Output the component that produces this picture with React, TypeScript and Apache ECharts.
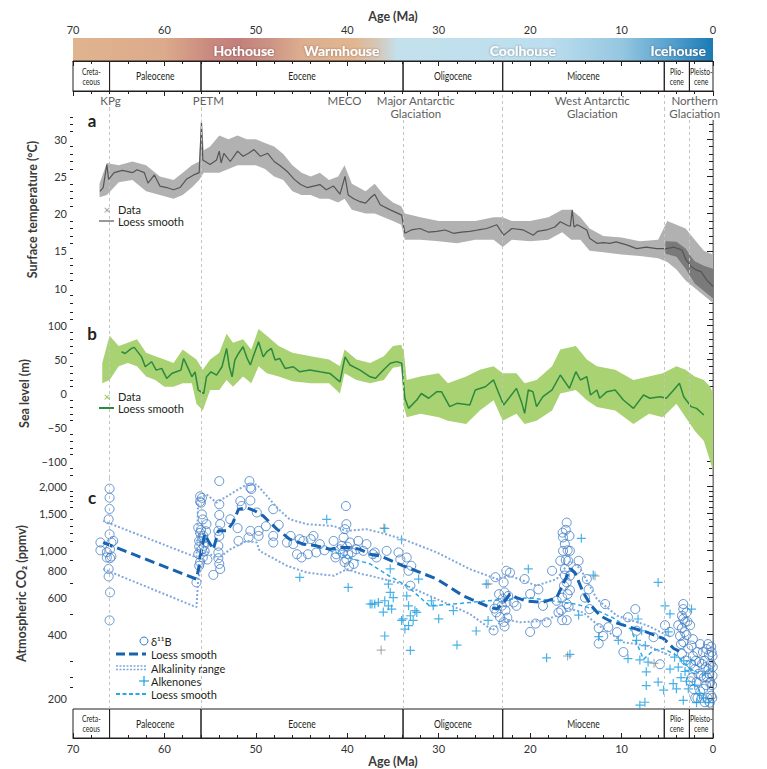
import React, { useEffect, useRef } from "react";
import * as echarts from "echarts";

// ---------- time scale ----------
const epochNames = ["Creta-\nceous", "Paleocene", "Eocene", "Oligocene", "Miocene", "Plio-\ncene", "Pleisto-\ncene"];
const epochOld = [70, 66, 56, 33.9, 23, 5.33, 2.58];
const epochYoung = [66, 56, 33.9, 23, 5.33, 2.58, 0];
const boundaryAges = [66, 56, 33.9, 23, 5.33, 2.58];

const regimeNames = ["Hothouse", "Warmhouse", "Coolhouse", "Icehouse"];
const regimeAges = [51.3, 40.6, 20.8, 3.8];

const eventNames = ["KPg", "PETM", "MECO", "Major Antarctic\nGlaciation", "West Antarctic\nGlaciation", "Northern\nGlaciation"];
const eventAges = [65.9, 55.2, 40.3, 32.5, 13.2, 2.0];

// ---------- tick values ----------
const tempMajor = [10, 15, 20, 25, 30];
const tempMinor = [8, 9, 11, 12, 13, 14, 16, 17, 18, 19, 21, 22, 23, 24, 26, 27, 28, 29, 31, 32, 33];
const seaMajor = [-100, -50, 0, 50, 100];
const seaMinor = [-120, -110, -90, -80, -70, -60, -40, -30, -20, -10, 10, 20, 30, 40, 60, 70, 80, 90, 110, 120];
const co2Major = [200, 400, 600, 800, 1000, 1500, 2000];
const co2Minor = [225, 250, 300, 500, 700, 900, 1100, 1200, 1300, 1400, 1600, 1700, 1800, 1900];

// ---------- (a) surface temperature, °C ----------
const tempAge = [67.05, 66.7, 66.3, 66.1, 65.5, 64.6, 63.5, 63.0, 62.2, 61.8, 61.1, 60.5, 59.75, 59.0, 58.3, 57.6, 56.8, 56.2, 55.95, 55.8,
  55.0, 54.3, 54.0, 53.8, 53.5, 52.8, 52.0, 51.4, 50.8, 50.2, 49.5, 48.7, 48.0, 47.3, 46.6, 45.8, 45.1, 44.4, 43.7, 43.0,
  42.3, 41.5, 40.8, 40.25, 39.9, 39.3, 38.6, 38.0, 37.4, 37.0, 36.4, 35.3, 34.05, 33.7, 33.0, 32.05, 31.1, 30.2, 29.3, 28.4,
  27.5, 26.6, 25.7, 24.75, 23.65, 22.9, 22.0, 20.75, 19.65, 19.2, 18.2, 17.3, 16.7, 15.9, 15.6, 15.4, 15.2, 14.85, 13.8, 13.5,
  12.7, 12.0, 11.3, 10.6, 9.44, 8.35, 7.3, 6.16, 5.07, 4.3, 3.4, 2.96, 2.4, 1.8, 1.3, 0.7, 0.0];
const tempLoess = [23.0, 23.5, 26.6, 24.6, 25.5, 25.8, 25.5, 25.9, 25.5, 24.1, 25.2, 23.7, 23.5, 23.2, 23.5, 24.6, 25.2, 25.5, 32.3, 27.2,
  26.6, 27.2, 28.4, 26.8, 28.1, 27.0, 28.4, 27.7, 28.1, 28.6, 27.7, 28.1, 27.0, 26.4, 25.7, 24.6, 23.9, 23.5, 23.7, 23.9,
  23.2, 23.7, 22.6, 25.0, 22.5, 22.0, 21.6, 21.4, 22.2, 22.6, 21.2, 20.5, 19.8, 17.35, 17.8, 18.0, 17.5, 17.6, 17.8, 17.35,
  17.5, 17.6, 17.8, 18.0, 18.5, 17.1, 18.0, 17.8, 17.1, 17.6, 17.8, 18.2, 18.9, 18.4, 18.3, 20.5, 18.2, 18.5, 17.8, 16.7,
  16.0, 16.1, 16.0, 16.2, 15.8, 15.3, 15.5, 15.3, 15.3, 15.5, 15.1, 13.8, 12.9, 12.4, 12.2, 11.1, 10.2];

const tempCloudAge = [67.1, 66.3, 65, 63.5, 62, 60.5, 59, 58, 57, 56.2, 55.95, 55.7, 55, 54, 53, 52, 51, 50, 49, 48,
  47, 46, 45, 44, 43, 42, 41, 40.3, 39.5, 38, 37, 36, 35, 34.1, 33.7, 32, 30, 28, 26, 24,
  23, 22, 20, 18, 16.5, 15.5, 14.5, 13.5, 12, 10, 8, 6, 5, 4, 3, 2, 1, 0];
const tempCloudHigh = [24.0, 26.8, 26.5, 27.0, 26.5, 25.0, 24.5, 25.5, 26.5, 27.0, 33.0, 28.5, 29.0, 30.5, 30.0, 30.5, 30.0, 30.0, 29.5, 29.0,
  28.0, 26.5, 25.5, 25.0, 25.5, 24.5, 25.0, 26.5, 24.0, 23.0, 24.0, 22.5, 21.5, 21.0, 20.0, 19.5, 19.0, 19.0, 19.0, 19.5,
  19.5, 19.0, 19.0, 19.5, 20.5, 20.5, 19.5, 18.0, 17.0, 16.8, 16.3, 16.5, 19.0, 18.5, 18.0, 16.5, 15.0, 14.5];
const tempCloudLow = [22.2, 22.5, 24.2, 24.5, 23.0, 22.5, 22.0, 22.5, 23.5, 24.5, 25.0, 25.5, 25.5, 25.5, 26.0, 26.5, 26.5, 26.5, 26.0, 25.0,
  24.5, 23.0, 22.5, 22.5, 22.0, 22.0, 21.5, 22.0, 20.5, 20.0, 20.0, 19.5, 19.0, 18.5, 16.5, 16.5, 16.3, 16.0, 16.5, 16.5,
  15.5, 16.5, 16.3, 16.5, 17.5, 16.5, 16.5, 15.0, 14.8, 14.5, 14.3, 14.0, 13.5, 12.5, 11.0, 10.0, 9.0, 8.0];
// densely sampled glacial–interglacial range (Plio-Pleistocene)
const tempCoreAge = [5.2, 4.0, 3.0, 2.5, 2.0, 1.0, 0.0];
const tempCoreHigh = [16.3, 16.2, 15.3, 14.4, 13.6, 13.0, 12.6];
const tempCoreLow = [14.6, 14.2, 12.6, 11.6, 10.6, 9.6, 8.6];

// ---------- (b) sea level, m ----------
const seaAge = [64.7, 64.3, 63.6, 63.3, 62.5, 62.1, 61.4, 60.9, 60.3, 59.75, 59.2, 58.7, 58.2, 57.9, 57.4, 57.0, 56.65, 56.3, 55.7, 55.4,
  54.9, 54.3, 53.7, 53.2, 52.9, 52.6, 52.3, 51.9, 51.4, 50.95, 50.6, 50.3, 49.7, 49.2, 48.8, 48.3, 47.9, 47.4, 46.8, 45.9,
  45.2, 44.1, 43.0, 41.9, 40.8, 40.25, 39.7, 38.6, 37.5, 36.9, 36.05, 35.3, 34.6, 34.05, 33.7, 33.3, 32.4, 31.9, 31.1, 30.2,
  29.7, 28.8, 28.0, 26.6, 26.0, 24.9, 24.0, 23.5, 22.9, 22.2, 21.5, 20.9, 20.6, 20.2, 19.7, 19.3, 18.6, 17.6, 16.7, 15.7,
  15.0, 14.5, 13.8, 13.4, 12.7, 12.4, 11.6, 10.7, 9.8, 8.7, 7.6, 6.9, 5.8, 5.1, 4.3, 3.67, 3.2, 2.4, 1.8, 1.0];
const seaLoess = [61.6, 59, 66.5, 68, 54, 39.4, 46.8, 34.5, 37, 22.2, 29.6, 32, 34.5, 51.7, 37, 24.6, 32, 4.9, 0, 24.6,
  32, 27, 39.4, 66.5, 39.4, 24.6, 49.3, 59, 69, 51.7, 42, 54, 76.4, 54, 61.6, 66.5, 49.3, 51.7, 37, 39.4,
  32, 34.5, 32, 29.6, 17.2, 54, 42, 34.5, 24.6, 22.4, 34.7, 44.5, 47, 44.5, -7, -21.9, -9.6, 0, -7, 2.7,
  2.7, -19.4, -14.5, -17, 5.2, 10, 20, 2.7, -17, -4.7, 7.6, -14.5, -29.3, 5.2, 2.7, -19.4, -4.7, 5.2, 27.3, 7.6,
  32.2, 19.9, 24.8, -2.2, 5.2, -7, 2.7, 5.2, -9.6, -21.9, -2.2, -7, -4.7, -7, 5.2, 15, -4.7, -19.4, -21.9, -31.7];

const seaCloudAge = [66.8, 66, 65, 64, 63, 62, 61, 60, 59, 58, 57, 56.5, 55.8, 55, 54, 53.2, 52.5, 51.4, 50.5, 49.7,
  48.8, 47.5, 46, 44, 42, 40.8, 40.3, 39, 37.5, 36, 35, 34.1, 33.8, 33.5, 32, 30, 29, 27, 25.5, 24,
  23, 21.5, 20.6, 19.3, 17.6, 16.7, 15, 13.8, 12.7, 10.7, 8.7, 7, 5.5, 4, 3, 2, 1, 0.3, 0];
const seaCloudHigh = [45, 85, 70, 75, 80, 60, 55, 50, 45, 65, 55, 50, 35, 50, 60, 88, 75, 80, 65, 95,
  85, 70, 60, 55, 50, 40, 65, 50, 45, 55, 70, 72, 60, 20, 25, 30, 15, 25, 35, 40,
  30, 30, 15, 20, 40, 65, 70, 50, 40, 35, 20, 25, 30, 40, 35, 25, 20, 10, 0];
const seaCloudLow = [15, 20, 40, 45, 40, 25, 20, 10, 10, 15, 15, -15, -25, 5, 5, 20, 10, 25, 15, 40,
  30, 25, 18, 15, 15, 0, 30, 20, 15, 20, 38, 40, -20, -35, -30, -35, -40, -45, -25, -10,
  -40, -30, -45, -40, -25, 0, 5, -10, -20, -25, -45, -30, -35, -15, -35, -55, -70, -100, -115];

// ---------- (c) atmospheric CO2, ppmv ----------
const boronPoints: [number, number][] = [
  [67.0, 1089], [67.0, 1000], [66.3, 980], [66.1, 1402], [66.0, 1190], [66.0, 1957], [66.0, 1774], [66.0, 1570], [65.95, 1011],
  [65.95, 918], [66.1, 816], [66.1, 752], [65.95, 632], [66.0, 466], [65.8, 1089], [65.6, 1108], [66.3, 925], [65.8, 935],
  [56.1, 1800], [56.1, 1700], [55.9, 1770], [56.0, 1680], [55.9, 1480], [55.8, 1400], [56.3, 1280], [56.1, 1210], [55.75, 1170],
  [56.2, 1110], [55.7, 1050], [55.9, 1011], [56.3, 960], [55.8, 925], [56.1, 878], [56.2, 845], [55.75, 1140], [55.45, 1230],
  [55.4, 1330], [55.6, 1089], [56.5, 705], [55.3, 905], [56.0, 1250], [55.9, 1150], [56.2, 1040], [55.6, 990],
  [54.0, 2127], [54.0, 1650], [54.0, 1470], [53.9, 1330], [54.1, 1236], [54.0, 1170], [54.1, 1050], [54.1, 977], [54.1, 918],
  [54.0, 862], [54.65, 765], [53.9, 816],
  [52.8, 1402], [51.9, 1108], [52.0, 1274], [51.7, 1710], [51.55, 1620], [50.7, 2127], [50.6, 1980], [50.6, 1720], [50.8, 1150],
  [50.6, 1236], [49.7, 1236], [49.7, 1170], [48.9, 1300], [48.1, 1565], [47.5, 1320], [49.9, 1510], [50.5, 1950],
  [48.1, 1170], [48.1, 1089], [46.6, 1089], [45.9, 1070], [45.5, 958], [45.2, 1129], [45.0, 925], [44.8, 1108], [44.3, 958],
  [43.7, 1170], [43.4, 977], [43.0, 1070], [41.5, 1108], [41.3, 925], [41.2, 958], [40.8, 1011], [40.6, 1050], [40.4, 1150],
  [40.25, 1259], [40.15, 1620], [40.1, 1330], [40.1, 905], [39.9, 958], [39.7, 1089], [39.5, 977], [39.3, 862], [39.0, 1011],
  [38.8, 1108], [38.25, 994], [37.9, 1070], [37.0, 977], [36.8, 925], [40.5, 970], [40.0, 1040], [40.3, 880], [39.8, 840],
  [44.0, 1130], [42.5, 1000], [46.2, 1170],
  [37.2, 958], [35.7, 994], [34.4, 977], [34.2, 905], [33.5, 925], [33.3, 800], [33.1, 680], [33.0, 845],
  [23.8, 746], [22.9, 705], [22.6, 800], [22.2, 784], [23.7, 508], [23.3, 483], [22.9, 458], [22.8, 436], [24.0, 418],
  [23.1, 546], [22.6, 567], [21.8, 567], [21.5, 546], [22.4, 608], [22.8, 632], [20.6, 731], [20.0, 621], [20.0, 411],
  [19.4, 450], [19.1, 653], [18.6, 546], [18.2, 456], [17.6, 800], [23.5, 560], [23.0, 590], [23.4, 620], [22.7, 520],
  [23.9, 530], [22.5, 480],
  [16.0, 1353], [16.45, 1212], [16.4, 1150], [16.2, 1070], [15.7, 1170], [15.65, 994], [16.4, 994], [16.7, 892], [15.85, 892],
  [16.2, 816], [15.65, 758], [16.0, 705], [15.65, 647], [16.5, 597], [16.0, 557], [16.9, 508], [16.5, 467], [16.0, 467],
  [17.1, 577], [14.7, 892], [14.9, 816], [13.8, 731], [13.6, 653], [14.0, 597], [13.5, 527], [12.5, 428], [12.5, 362],
  [12.0, 393], [11.8, 557], [11.45, 433], [10.5, 410], [9.8, 330], [9.3, 482], [8.5, 527], [8.36, 416], [6.5, 388], [5.8, 289],
  [5.25, 442], [4.7, 411], [16.2, 760], [15.9, 620], [16.3, 680], [15.8, 540], [16.6, 520], [16.1, 900], [15.9, 1000], [16.1, 1250],
  [3.25, 557], [3.25, 527], [3.4, 490], [3.05, 458], [3.4, 428], [2.9, 397], [3.25, 368], [2.7, 343], [3.4, 324], [3.0, 301],
  [2.5, 442], [3.6, 393], [2.9, 508], [3.25, 474], [3.8, 442], [3.1, 410], [2.8, 460], [3.5, 360],
  [2.35, 354], [2.2, 316], [2.0, 274], [1.8, 238], [1.5, 296], [1.3, 255], [1.06, 221], [0.9, 191], [0.7, 341], [0.5, 274],
  [0.3, 238], [0.2, 205], [0.05, 316], [0.05, 255], [2.4, 290], [2.3, 250], [2.1, 220], [1.9, 300], [1.7, 330], [1.6, 260],
  [1.4, 215], [1.2, 290], [1.1, 330], [1.0, 250], [0.8, 280], [0.75, 230], [0.6, 200], [0.45, 320], [0.4, 260], [0.35, 190],
  [0.25, 290], [0.15, 330], [0.1, 230], [0.08, 200], [0.02, 280], [2.2, 380], [1.95, 200], [1.4, 360], [0.55, 360], [0.2, 350],
  [0.9, 300], [1.7, 200], [2.45, 240], [1.25, 200], [0.65, 250],
];
const alkenonePoints: [number, number][] = [
  [42.25, 1402], [45.2, 745], [39.9, 667], [37.3, 557], [37.0, 557], [36.6, 567], [35.9, 1268], [34.06, 1122], [37.5, 557],
  [36.06, 510], [35.9, 577], [35.5, 546], [35.15, 527], [35.3, 816], [34.97, 597], [35.5, 692], [35.3, 632], [33.5, 608],
  [33.3, 546], [33.1, 490], [33.3, 440], [34.06, 466], [33.9, 474], [33.7, 424], [32.8, 466], [32.6, 518], [32.4, 508],
  [32.2, 731], [35.9, 393], [33.1, 336], [30.8, 577], [30.6, 546], [30.0, 474], [28.4, 518], [25.9, 415], [28.0, 356],
  [24.8, 692], [24.6, 466], [20.2, 816], [18.2, 310], [15.65, 322], [14.7, 494], [14.4, 1140], [13.1, 764], [12.5, 390],
  [10.35, 375], [9.3, 307], [8.36, 375], [8.2, 473], [7.8, 416], [7.4, 354], [7.3, 266], [7.3, 229], [8.0, 303], [7.1, 296],
  [6.0, 705], [6.0, 238], [5.4, 218], [5.25, 546], [4.9, 411], [4.7, 500], [4.7, 274], [4.35, 234], [4.2, 312], [4.0, 221],
  [3.25, 195], [3.06, 267], [2.7, 221], [2.35, 527], [1.8, 190], [1.06, 200], [8.0, 185], [7.45, 191],
  [3.5, 250], [2.9, 240], [2.5, 300], [2.0, 230], [1.5, 210], [0.5, 190], [3.8, 280], [3.2, 300], [2.6, 270],
];
const otherProxyPoints: [number, number][] = [[36.0, 1275], [36.3, 337], [24.6, 693], [12.9, 756], [15.9, 316], [6.45, 292]];

const boronLoessAge = [66.7, 56.5, 56.2, 56.0, 55.6, 55.2, 54.65, 54.1, 53.2, 52.5, 51.9, 51.0, 50.1, 49.2, 47.7, 46.3, 44.8, 43.35,
  41.9, 40.8, 39.7, 38.6, 37.5, 36.4, 33.9, 30.2, 27.3, 24.75, 23.65, 22.9, 22.2, 21.5, 20.4, 18.6, 17.1, 16.4, 15.6, 15.1,
  14.2, 13.3, 12.35, 11.3, 9.1, 7.25, 5.4, 4.3, 3.5];
const boronLoess = [1089, 731, 845, 977, 1192, 1108, 1011, 1236, 1236, 1353, 1565, 1592, 1536, 1455, 1259, 1129, 1070, 1050,
  1011, 1031, 1031, 1011, 958, 940, 845, 731, 608, 546, 527, 567, 621, 597, 575, 567, 597, 692, 818, 784,
  632, 546, 490, 464, 433, 410, 382, 343, 330];

const alkHighAge = [66.7, 56.5, 56.3, 55.4, 54.3, 52.5, 51.0, 49.9, 48.8, 47.7, 46.3, 44.4, 41.5, 40.1, 37.9, 36.4, 33.9, 30.2,
  26.6, 23.65, 22.2, 19.3, 17.1, 15.6, 14.5, 12.7, 10.5, 7.25, 4.7];
const alkHigh = [1378, 926, 1742, 1840, 1680, 1875, 2050, 2050, 1810, 1592, 1402, 1329, 1304, 1236, 1259, 1213, 1129, 977,
  815, 731, 758, 680, 731, 892, 818, 588, 490, 442, 390];
const alkLowAge = [66.7, 56.5, 56.3, 55.5, 54.2, 52.8, 51.0, 49.9, 49.6, 46.6, 44.4, 41.5, 40.0, 38.5, 37.5, 33.9, 30.2, 26.6,
  24.1, 22.9, 21.1, 18.6, 17.1, 15.6, 14.2, 12.7, 9.8, 7.25, 4.7];
const alkLow = [816, 538, 731, 994, 909, 1011, 1108, 1089, 994, 845, 784, 758, 815, 773, 758, 692, 588, 500,
  418, 474, 456, 464, 490, 527, 508, 447, 367, 354, 318];

const alkenoneLoessAge = [42, 39, 37.5, 35.5, 33.5, 31, 28.5, 25, 22.5, 20, 17.5, 15, 13, 11, 9, 7.6, 6.5, 5.4, 4, 2.5, 1, 0];
const alkenoneLoess = [1000, 900, 862, 760, 680, 546, 556, 575, 585, 597, 575, 556, 527, 481, 424, 305, 336, 343, 318, 275, 256, 280];

// ---------- styling ----------
const FONT = "Lato, 'Open Sans', 'Noto Sans', sans-serif";
const TXT = "#231f20";
const GRID_L = 73;
const GRID_R = 767 - 713;

const regimeStops: [number, string][] = [
  [70, "#e0b48f"], [60, "#dcaa8c"], [55, "#c9897f"], [52, "#c27f7c"], [48.5, "#cc9385"], [45, "#dcae8f"],
  [39, "#e0b792"], [36.5, "#d4c9bd"], [34.5, "#c3e1ec"], [18, "#bcdeee"], [10, "#95c7e1"], [4, "#4e9ccb"], [0, "#1a7ab4"],
];

const lg10 = (v: number) => Math.log10(v);

function pairs(xs: number[], ys: number[], f: (v: number) => number = (v) => v) {
  return xs.map((x, i) => [x, f(ys[i])]);
}

function cloudSeries(xi: number, yi: number, ages: number[], lo: number[], hi: number[], fill: string) {
  return {
    type: "custom",
    xAxisIndex: xi,
    yAxisIndex: yi,
    silent: true,
    z: 1,
    data: [[ages[0], lo[0]]],
    renderItem: (_p: any, api: any) => {
      const top = ages.map((a, i) => api.coord([a, hi[i]]));
      const bottom = ages.map((a, i) => api.coord([a, lo[i]])).reverse();
      return { type: "polygon", shape: { points: top.concat(bottom) }, style: { fill } };
    },
  };
}

function boundarySeries(xi: number, yi: number) {
  return {
    type: "line",
    xAxisIndex: xi,
    yAxisIndex: yi,
    data: [],
    silent: true,
    z: 0,
    markLine: {
      silent: true,
      symbol: "none",
      label: { show: false },
      animation: false,
      lineStyle: { color: "#c4c4c4", type: [3, 3], width: 1 },
      data: boundaryAges.map((a) => ({ xAxis: a })),
    },
  };
}

// Epoch boxes; labels are horizontally compressed to mimic a condensed face
function epochSeries(xi: number, yi: number) {
  return {
    type: "custom",
    xAxisIndex: xi,
    yAxisIndex: yi,
    silent: true,
    data: [[70, 0]],
    renderItem: (_p: any, api: any) => ({
      type: "group",
      children: epochNames.map((name, i) => {
        const a = api.coord([epochOld[i], 1]);
        const b = api.coord([epochYoung[i], 0]);
        const twoLines = name.indexOf("\n") >= 0;
        return {
          type: "group",
          children: [
            {
              type: "rect",
              shape: { x: a[0], y: a[1], width: b[0] - a[0], height: b[1] - a[1] },
              style: { fill: "none", stroke: TXT, lineWidth: 1 },
            },
            {
              type: "text",
              x: (a[0] + b[0]) / 2,
              y: (a[1] + b[1]) / 2,
              scaleX: twoLines ? 0.68 : 0.78,
              style: {
                text: name,
                align: "center",
                verticalAlign: "middle",
                fill: TXT,
                font: `${twoLines ? 10 : 11}px ${FONT}`,
                lineHeight: 10,
              },
            },
          ],
        };
      }),
    }),
  };
}

function panelAxes(grid: number, min: number, max: number, major: number[], minor: number[], name: string,
  fmt: (v: number) => string, nameGap: number) {
  const base = { gridIndex: grid, type: "value", min, max, splitLine: { show: false } };
  const tickStyle = { color: TXT, width: 1 };
  return [
    {
      ...base,
      position: "left",
      name,
      nameLocation: "middle",
      nameRotate: 90,
      nameGap,
      nameTextStyle: { fontFamily: FONT, fontWeight: "bold", fontSize: 12.5, color: "#3a3a3a" },
      axisLine: { show: true, lineStyle: { color: TXT, width: 1 } },
      axisTick: { show: true, customValues: major, length: 5, lineStyle: tickStyle },
      axisLabel: { customValues: major, formatter: fmt, fontFamily: FONT, fontSize: 11, color: "#333", margin: 6 },
    },
    {
      ...base,
      position: "left",
      axisLine: { show: false },
      axisTick: { show: true, customValues: minor, length: 3, lineStyle: tickStyle },
      axisLabel: { show: false },
    },
    {
      ...base,
      position: "right",
      axisLine: { show: true, lineStyle: { color: "#a0a0a0", width: 1.5 } },
      axisTick: { show: true, inside: true, customValues: major, length: 6, lineStyle: tickStyle },
      axisLabel: { show: false },
    },
    {
      ...base,
      position: "right",
      axisLine: { show: false },
      axisTick: { show: true, inside: true, customValues: minor, length: 4, lineStyle: tickStyle },
      axisLabel: { show: false },
    },
  ];
}

function buildOption(): any {
  const gridBoxes = [
    { top: 38, height: 23 }, // 0 climate regimes
    { top: 61, height: 30 }, // 1 epochs (top)
    { top: 91, height: 19 }, // 2 events
    { top: 110, height: 199 }, // 3 temperature
    { top: 309, height: 169 }, // 4 sea level
    { top: 478, height: 231 }, // 5 CO2
    { top: 709, height: 29 }, // 6 epochs (bottom)
  ];
  const grid = gridBoxes.map((g) => ({ left: GRID_L, right: GRID_R, ...g, outerBoundsMode: "none", containLabel: false }));

  const ageAxisBase = (i: number) => ({
    gridIndex: i, type: "value", min: 0, max: 70, inverse: true, show: false, splitLine: { show: false },
  });
  const tickedAge = {
    show: true,
    interval: 10,
    z: 10,
    axisLine: { show: true, lineStyle: { color: TXT, width: 1 } },
    axisTick: { show: true, inside: true, length: 5, lineStyle: { color: TXT } },
    minorTick: { show: true, splitNumber: 5, length: 3, lineStyle: { color: TXT } },
    nameTextStyle: { fontFamily: FONT, fontWeight: "bold", fontSize: 12.5, color: "#3a3a3a" },
  };
  const xAxis = [
    {
      ...ageAxisBase(0), ...tickedAge, position: "top",
      axisLabel: { fontFamily: FONT, fontSize: 11, color: "#333", margin: 3 },
      name: "Age (Ma)", nameLocation: "middle", nameGap: 13,
    },
    { ...ageAxisBase(1), ...tickedAge, position: "top", axisLabel: { show: false } },
    ageAxisBase(2),
    ageAxisBase(3),
    ageAxisBase(4),
    ageAxisBase(5),
    {
      ...ageAxisBase(6), ...tickedAge, position: "bottom",
      axisLabel: { fontFamily: FONT, fontSize: 11, color: "#333", margin: 5 },
      name: "Age (Ma)", nameLocation: "middle", nameGap: 14,
    },
  ];

  const hiddenY = (i: number) => ({ gridIndex: i, type: "value", min: 0, max: 1, show: false });
  const minus = (v: number) => (v < 0 ? "\u2212" + Math.abs(v) : String(v));
  const yAxis = [
    hiddenY(0), hiddenY(1), hiddenY(2),
    ...panelAxes(3, 7.18, 33.92, tempMajor, tempMinor, "Surface temperature (°C)", (v) => String(v), 34),
    ...panelAxes(4, -124.6, 124.6, seaMajor, seaMinor, "Sea level (m)", minus, 34),
    ...panelAxes(5, 2.249, 3.3422, co2Major.map(lg10), co2Minor.map(lg10), "Atmospheric CO\u2082 (ppmv)",
      (v) => Math.round(Math.pow(10, v)).toLocaleString("en-US"), 38),
    hiddenY(6),
  ];
  // y-axis indices: temperature 3, sea level 7, CO2 11, bottom epochs 15

  const gradient = new echarts.graphic.LinearGradient(0, 0, 1, 0,
    regimeStops.map(([age, color]) => ({ offset: (70 - age) / 70, color })));

  const regimeSeries = {
    type: "custom", xAxisIndex: 0, yAxisIndex: 0, silent: true,
    data: [[70, 0]],
    renderItem: (_p: any, api: any) => {
      const a = api.coord([70, 1]);
      const b = api.coord([0, 0]);
      const children: any[] = [
        { type: "rect", shape: { x: a[0], y: a[1], width: b[0] - a[0], height: b[1] - a[1] }, style: { fill: gradient } },
      ];
      regimeNames.forEach((n, i) => {
        const c = api.coord([regimeAges[i], 0.5]);
        children.push({
          type: "text", x: c[0], y: c[1] + 1,
          style: {
            text: n, align: "center", verticalAlign: "middle", fill: "#ffffff",
            font: `bold 14px ${FONT}`, textShadowColor: "rgba(60,40,40,0.45)", textShadowBlur: 2,
          },
        });
      });
      return { type: "group", children };
    },
  };

  const eventSeries = {
    type: "custom", xAxisIndex: 2, yAxisIndex: 2, silent: true, z: 6,
    data: [[70, 0]],
    renderItem: (_p: any, api: any) => ({
      type: "group",
      children: eventNames.map((n, i) => {
        const c = api.coord([eventAges[i], 1]);
        return {
          type: "text", x: c[0], y: c[1] + 3,
          style: {
            text: n, align: "center", verticalAlign: "top", fill: "#606060",
            font: `11.5px ${FONT}`, lineHeight: 13, backgroundColor: "#ffffff",
          },
        };
      }),
    }),
  };

  const hollowCircle = { color: "rgba(255,255,255,0)", borderColor: "#3f7cc4", borderWidth: 1 };
  const crossSymbol = "path://M5 0V10M0 5H10";

  const series: any[] = [
    regimeSeries,
    epochSeries(1, 1),
    boundarySeries(2, 2),
    boundarySeries(3, 3),
    boundarySeries(4, 7),
    boundarySeries(5, 11),
    eventSeries,
    // (a) temperature
    cloudSeries(3, 3, tempCloudAge, tempCloudLow, tempCloudHigh, "#b1b1b1"),
    cloudSeries(3, 3, tempCoreAge, tempCoreLow, tempCoreHigh, "#7a7a7a"),
    {
      type: "line", xAxisIndex: 3, yAxisIndex: 3, silent: true, showSymbol: false, symbol: "none", z: 3,
      data: pairs(tempAge, tempLoess), lineStyle: { color: "#555555", width: 1.2 },
    },
    // (b) sea level
    cloudSeries(4, 7, seaCloudAge, seaCloudLow, seaCloudHigh, "#a9d272"),
    {
      type: "line", xAxisIndex: 4, yAxisIndex: 7, silent: true, showSymbol: false, symbol: "none", z: 3,
      data: pairs(seaAge, seaLoess), lineStyle: { color: "#2b8a3e", width: 1.5 },
    },
    // (c) CO2
    {
      type: "line", xAxisIndex: 5, yAxisIndex: 11, silent: true, showSymbol: false, symbol: "none",
      data: pairs(alkHighAge, alkHigh, lg10), lineStyle: { color: "#80a8dc", width: 2, type: [2, 2] },
    },
    {
      type: "line", xAxisIndex: 5, yAxisIndex: 11, silent: true, showSymbol: false, symbol: "none",
      data: pairs(alkLowAge, alkLow, lg10), lineStyle: { color: "#80a8dc", width: 2, type: [2, 2] },
    },
    {
      type: "scatter", xAxisIndex: 5, yAxisIndex: 11, silent: true, symbol: "circle", symbolSize: 9,
      data: boronPoints.map(([a, v]) => [a, lg10(v)]), itemStyle: hollowCircle,
    },
    {
      type: "scatter", xAxisIndex: 5, yAxisIndex: 11, silent: true, symbol: crossSymbol, symbolSize: 9,
      data: otherProxyPoints.map(([a, v]) => [a, lg10(v)]),
      itemStyle: { color: "none", borderColor: "#8a8a8a", borderWidth: 1 },
    },
    {
      type: "scatter", xAxisIndex: 5, yAxisIndex: 11, silent: true, symbol: crossSymbol, symbolSize: 9,
      data: alkenonePoints.map(([a, v]) => [a, lg10(v)]),
      itemStyle: { color: "none", borderColor: "#1a9fe2", borderWidth: 1.2 },
    },
    {
      type: "line", xAxisIndex: 5, yAxisIndex: 11, silent: true, showSymbol: false, symbol: "none",
      data: pairs(alkenoneLoessAge, alkenoneLoess, lg10), lineStyle: { color: "#2aa7e6", width: 1.5, type: [4, 3] },
    },
    {
      type: "line", xAxisIndex: 5, yAxisIndex: 11, silent: true, showSymbol: false, symbol: "none", z: 4,
      data: pairs(boronLoessAge, boronLoess, lg10), lineStyle: { color: "#1763b2", width: 3, type: [10, 5] },
    },
    epochSeries(6, 15),
  ];

  const label = (x: number, y: number, text: string) => ({
    type: "text", x, y, z: 20,
    style: { text, fill: TXT, font: `11px ${FONT}`, align: "left", verticalAlign: "middle" },
  });
  const panelLetter = (x: number, y: number, text: string) => ({
    type: "text", x, y, z: 20,
    style: { text, fill: TXT, font: `bold 17px ${FONT}`, align: "center", verticalAlign: "middle" },
  });
  const glyphLine = (x1: number, x2: number, y: number, stroke: string, lineWidth: number, lineDash?: number[]) => ({
    type: "line", z: 20, shape: { x1, y1: y, x2, y2: y }, style: { stroke, lineWidth, lineDash },
  });
  const cross = (x: number, y: number, text: string, fill: string) => ({
    type: "text", x, y, z: 20, style: { text, fill, font: `12px ${FONT}`, align: "center", verticalAlign: "middle" },
  });

  const graphic = [
    panelLetter(92, 120, "a"),
    panelLetter(92, 333, "b"),
    panelLetter(92, 497, "c"),
    // (a) legend
    cross(107, 209, "\u00d7", "#999"),
    label(118, 209, "Data"),
    glyphLine(99, 114, 221, "#555", 1.2),
    label(118, 221, "Loess smooth"),
    // (b) legend
    cross(107, 396, "\u00d7", "#8cc63f"),
    label(118, 396, "Data"),
    glyphLine(99, 114, 408, "#2b8a3e", 2),
    label(118, 408, "Loess smooth"),
    // (c) legend
    { type: "circle", z: 20, shape: { cx: 144, cy: 641, r: 4 }, style: { fill: "none", stroke: "#3f7cc4", lineWidth: 1 } },
    label(151, 641, "\u03b4\u00b9\u00b9B"),
    glyphLine(116, 146, 654, "#1763b2", 3, [9, 4]),
    label(151, 654, "Loess smooth"),
    glyphLine(116, 146, 666, "#80a8dc", 1.5, [2, 1.5]),
    glyphLine(116, 146, 669.5, "#80a8dc", 1.5, [2, 1.5]),
    label(151, 668, "Alkalinity range"),
    glyphLine(139, 149, 681, "#1a9fe2", 1.2),
    { type: "line", z: 20, shape: { x1: 144, y1: 676, x2: 144, y2: 686 }, style: { stroke: "#1a9fe2", lineWidth: 1.2 } },
    label(151, 681, "Alkenones"),
    glyphLine(116, 146, 694, "#2aa7e6", 1.8, [4, 2.5]),
    label(151, 694, "Loess smooth"),
  ];

  return { animation: false, backgroundColor: "#ffffff", grid, xAxis, yAxis, series, graphic };
}

export default function App() {
  const ref = useRef<HTMLDivElement>(null);
  useEffect(() => {
    document.body.style.margin = "0";
    const chart = echarts.init(ref.current!, null, { renderer: "svg" });
    chart.setOption(buildOption());
    return () => chart.dispose();
  }, []);
  return <div ref={ref} style={{ width: 767, height: 769 }} />;
}
